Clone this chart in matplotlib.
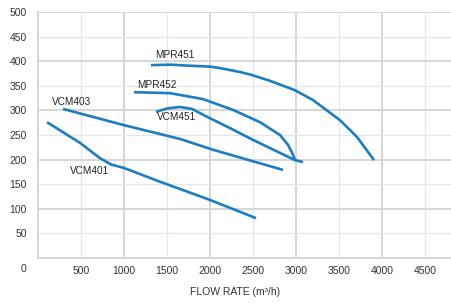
import matplotlib
matplotlib.use('Agg')
import matplotlib.pyplot as plt
from matplotlib.ticker import MultipleLocator

# pump curves: flow rate (m3/h) and head
mpr451_x = [1314, 1550, 1733, 2000, 2116, 2349, 2465, 2700, 2988, 3198, 3512, 3709, 3907]
mpr451_y = [392, 393, 391, 389, 386, 378, 373, 360, 341, 321, 280, 246, 199]

mpr452_x = [1116, 1535, 1919, 2267, 2581, 2814, 2907, 2960, 2988]
mpr452_y = [337, 335, 323, 301, 276, 250, 230, 212, 199]

vcm451_x = [1372, 1500, 1651, 1791, 1965, 2233, 2500, 2988, 3081]
vcm451_y = [297, 304, 307, 303, 287, 264, 240, 199, 195]

vcm403_x = [291, 1000, 1651, 2035, 2849]
vcm403_y = [303, 270, 242, 220, 179]

vcm401_x = [105, 488, 720, 850, 1000, 1419, 2000, 2535]
vcm401_y = [276, 234, 203, 190, 183, 155, 118, 81]

labels = ['MPR451', 'MPR452', 'VCM451', 'VCM403', 'VCM401']
label_x = [1593, 1384, 1616, 395, 605]
label_y = [413, 352, 287, 317, 177]

xticks = [500, 1000, 1500, 2000, 2500, 3000, 3500, 4000, 4500]
yticks = [50, 100, 150, 200, 250, 300, 350, 400, 450, 500]

blue = '#1b7dc3'
tick_font = ['Liberation Sans Narrow', 'Liberation Sans', 'DejaVu Sans']

fig = plt.figure(figsize=(4.51, 3.07), dpi=100)
ax = fig.add_axes([38/451, 1 - 258/307, 1 - 38/451, 246/307])

for xs, ys in [(mpr451_x, mpr451_y), (mpr452_x, mpr452_y), (vcm451_x, vcm451_y),
               (vcm403_x, vcm403_y), (vcm401_x, vcm401_y)]:
    ax.plot(xs, ys, color=blue, lw=1.9, solid_capstyle='butt', solid_joinstyle='round', zorder=3)

for t, x, y in zip(labels, label_x, label_y):
    ax.text(x, y, t, ha='center', va='center', fontsize=7.2, color='#222222',
            family=['Liberation Sans', 'DejaVu Sans'], zorder=4)

ax.set_xlim(0, 4802)
ax.set_ylim(0, 500)
ax.set_xticks(xticks)
ax.set_yticks(yticks)
ax.xaxis.set_minor_locator(MultipleLocator(500))
ax.yaxis.set_minor_locator(MultipleLocator(50))

# thick lines every 1000 / 100, thin in between
for v in range(0, 5000, 1000):
    ax.axvline(v, color='#d6d6d6', lw=1.4, zorder=1)
for v in range(500, 5000, 1000):
    ax.axvline(v, color='#e6e6e6', lw=0.9, zorder=1)
for v in range(100, 501, 100):
    ax.axhline(v, color='#d6d6d6', lw=1.4, zorder=1)
for v in range(50, 500, 100):
    ax.axhline(v, color='#e6e6e6', lw=0.9, zorder=1)

for s in ['top', 'right']:
    ax.spines[s].set_visible(False)
ax.spines['left'].set_color('#d6d6d6')
ax.spines['left'].set_linewidth(1.4)
ax.spines['bottom'].set_color('#d6d6d6')
ax.spines['bottom'].set_linewidth(1.4)

ax.tick_params(which='both', length=0, colors='#333333', labelsize=7.5)
ax.tick_params(axis='x', pad=6)
ax.tick_params(axis='y', pad=8)
for lab in ax.get_xticklabels() + ax.get_yticklabels():
    lab.set_family(tick_font)

ax.text(-14/86*1000, -11/0.492, '0', ha='center', va='center', fontsize=7.5,
        color='#333333', family=tick_font)

fig.text(235/451, 1 - 292/307, 'FLOW RATE (m³/h)', ha='center', va='center',
         fontsize=7.5, color='#333333', family=tick_font)

fig.savefig('out.png', dpi=100)
